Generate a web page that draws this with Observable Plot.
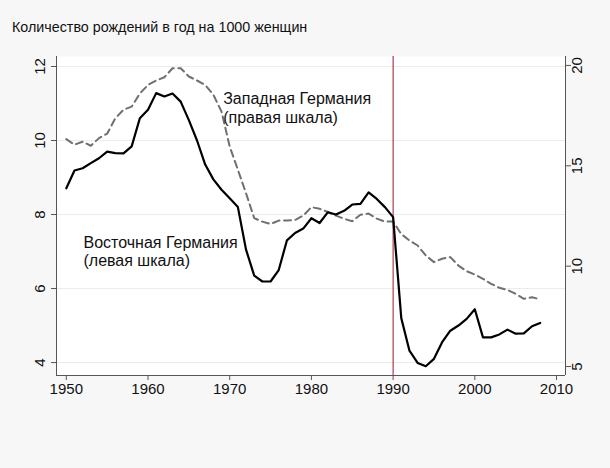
<!DOCTYPE html>
<html>
<head>
<meta charset="utf-8">
<script src="https://cdn.jsdelivr.net/npm/d3@7"></script>
<script src="https://cdn.jsdelivr.net/npm/@observablehq/plot@0.6"></script>
<style>
  html, body { margin: 0; padding: 0; background: #f7f7f7; }
  body { width: 610px; height: 468px; overflow: hidden; font-family: "Liberation Sans", Arial, sans-serif; }
  #title { height: 44px; box-sizing: border-box; padding: 19px 0 0 12px; font-size: 14.3px; color: #111; line-height: 17px; }
</style>
</head>
<body>
<div id="title">Количество рождений в год на 1000 женщин</div>
<div id="chart"></div>
<script>
const years = d3.range(1950, 2009);
// East Germany, births per 1000 women (left scale)
const east = [8.71, 9.19, 9.25, 9.39, 9.52, 9.70, 9.66, 9.65, 9.84, 10.60,
  10.83, 11.28, 11.19, 11.27, 11.05, 10.55, 10.00, 9.35, 8.95, 8.67,
  8.44, 8.20, 7.05, 6.35, 6.19, 6.19, 6.50, 7.30, 7.50, 7.62,
  7.90, 7.77, 8.06, 8.00, 8.10, 8.27, 8.29, 8.60, 8.42, 8.20,
  7.93, 5.20, 4.32, 3.99, 3.90, 4.10, 4.55, 4.86, 5.00, 5.18,
  5.44, 4.68, 4.68, 4.76, 4.89, 4.78, 4.79, 4.98, 5.07];
// West Germany, births per 1000 women (right scale)
const west = [16.33, 16.05, 16.20, 16.00, 16.38, 16.60, 17.37, 17.79, 17.95, 18.60,
  19.03, 19.25, 19.41, 19.86, 19.86, 19.45, 19.25, 19.03, 18.54, 17.70,
  15.96, 14.80, 13.63, 12.39, 12.22, 12.10, 12.27, 12.27, 12.30, 12.52,
  12.94, 12.86, 12.70, 12.52, 12.36, 12.24, 12.56, 12.62, 12.37, 12.22,
  12.22, 11.60, 11.28, 11.03, 10.53, 10.20, 10.37, 10.45, 10.03, 9.75,
  9.58, 9.37, 9.12, 8.92, 8.82, 8.62, 8.37, 8.45, 8.35];
const xTicks = [1950, 1960, 1970, 1980, 1990, 2000, 2010];
const leftTicks = [4, 6, 8, 10, 12];
const rightTicks = [5, 10, 15, 20];
const markerYear = [1990];
const labels = [
  {year: 1969.2, value: 11.33, text: "Западная Германия\n(правая шкала)"},
  {year: 1952.1, value: 7.46, text: "Восточная Германия\n(левая шкала)"}
];

const xDomain = [1948.8, 2011.1];
const leftDomain = [3.65, 12.27];
const rightDomain = [4.552, 20.446];
const toLeft = d3.scaleLinear().domain(rightDomain).range(leftDomain);

const rows = years.map((y, i) => ({year: y, east: east[i], west: toLeft(west[i])}));

const axisColor = "#555";
const font = "'Liberation Sans', Arial, sans-serif";
const chart = Plot.plot({
  width: 610,
  height: 424,
  marginLeft: 56,
  marginRight: 45,
  marginTop: 12,
  marginBottom: 93,
  style: {background: "transparent", fontFamily: font, fontSize: "15px", color: "#111"},
  x: {domain: xDomain},
  y: {domain: leftDomain},
  marks: [
    Plot.frame({fill: "white", stroke: null}),
    Plot.gridY(leftTicks, {stroke: "#ececec", strokeOpacity: 1}),
    Plot.ruleX(markerYear, {stroke: "#a3142a", strokeWidth: 1}),
    Plot.line(rows, {x: "year", y: "west", stroke: "#707070", strokeWidth: 2, strokeDasharray: "7,4.5"}),
    Plot.line(rows, {x: "year", y: "east", stroke: "#000", strokeWidth: 2.2}),
    Plot.text(labels, {x: "year", y: "value", text: "text", textAnchor: "start", lineAnchor: "top", lineHeight: 1.15, fontSize: 16, fill: "#111"}),
    Plot.ruleX([xDomain[0], xDomain[1]], {stroke: axisColor}),
    Plot.ruleY([leftDomain[0]], {stroke: axisColor}),
    Plot.axisX(xTicks, {tickSize: 5, tickPadding: 3, stroke: axisColor, fontSize: 15, tickFormat: d => String(d), label: null, fill: "#111"}),
    Plot.axisY(leftTicks, {anchor: "left", tickSize: 5, tickRotate: -90, tickPadding: 7, stroke: axisColor, fontSize: 15, label: null, fill: "#111"}),
    Plot.axisY(rightTicks.map(v => toLeft(v)), {anchor: "right", tickSize: 5, tickRotate: -90, tickPadding: 11, stroke: axisColor, fontSize: 15, label: null, fill: "#111", tickFormat: d => String(Math.round(toLeft.invert(d)))})
  ]
});
document.getElementById("chart").appendChild(chart);
</script>
</body>
</html>
